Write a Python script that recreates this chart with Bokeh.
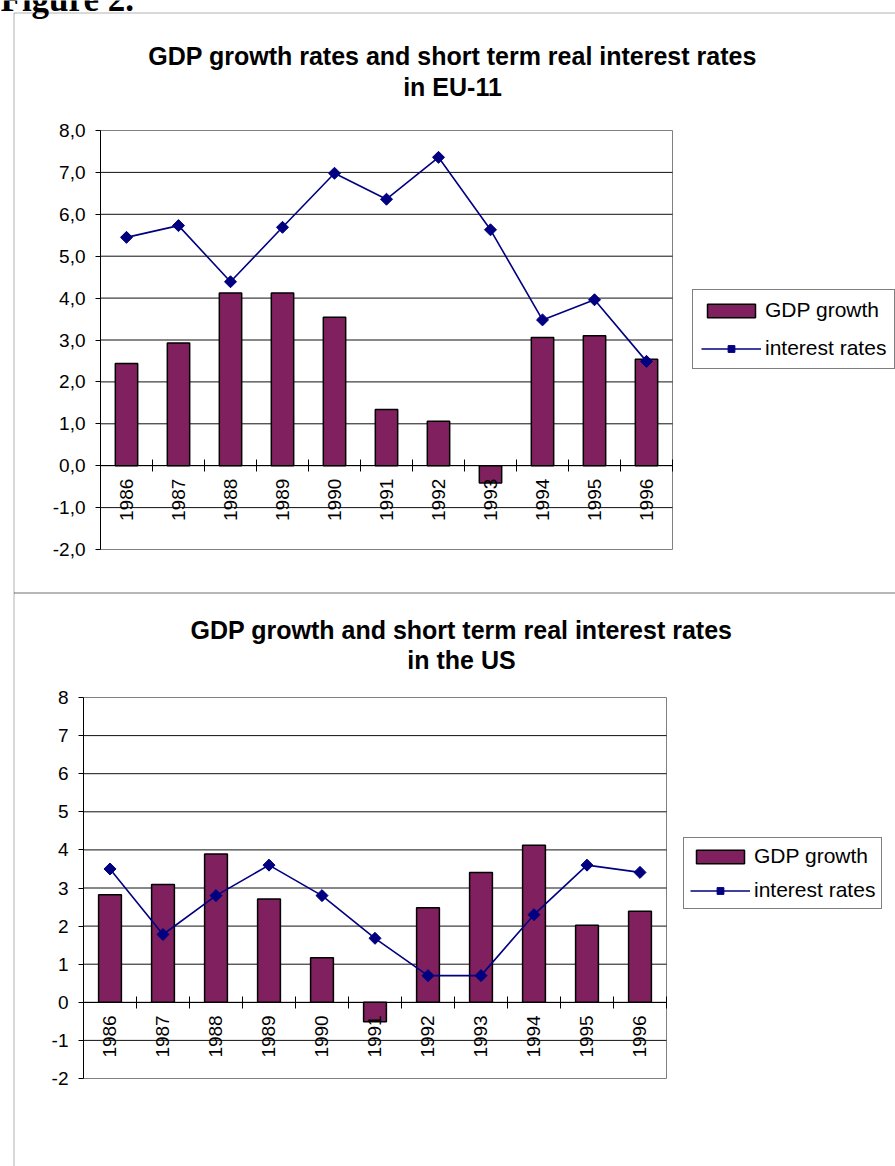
import math
from bokeh.plotting import figure
from bokeh.models import (Range1d, LinearAxis, FixedTicker, Legend, LegendItem,
                          Label, BoxAnnotation, ColumnDataSource)
from bokeh.embed import file_html
from bokeh.resources import INLINE

# ---------------- data ----------------
years = ["1986", "1987", "1988", "1989", "1990", "1991", "1992", "1993", "1994", "1995", "1996"]

eu_gdp = [2.44, 2.93, 4.12, 4.12, 3.54, 1.34, 1.06, -0.41, 3.06, 3.10, 2.54]
eu_rates = [5.45, 5.73, 4.39, 5.69, 6.98, 6.36, 7.36, 5.63, 3.48, 3.96, 2.49]

us_gdp = [2.82, 3.09, 3.89, 2.71, 1.17, -0.51, 2.48, 3.41, 4.12, 2.02, 2.39]
us_rates = [3.50, 1.78, 2.80, 3.60, 2.80, 1.68, 0.70, 0.70, 2.30, 3.60, 3.41]

y_values = [-2, -1, 0, 1, 2, 3, 4, 5, 6, 7, 8]
eu_tick_labels = ["-2,0", "-1,0", "0,0", "1,0", "2,0", "3,0", "4,0", "5,0", "6,0", "7,0", "8,0"]
us_tick_labels = ["-2", "-1", "0", "1", "2", "3", "4", "5", "6", "7", "8"]

eu_title = ["GDP growth rates and short term real interest rates", "in EU-11"]
us_title = ["GDP growth and short term real interest rates", "in the US"]
legend_labels = ["GDP growth", "interest rates"]
figure_caption = "Figure 2."

BAR_COLOR = "#80205F"
LINE_COLOR = "#000080"
FONT = "Liberation Sans"
W, H = 895, 1166

# page-pixel coordinate system: frame covers whole canvas
p = figure(width=W, height=H, output_backend="svg", toolbar_location=None,
           x_axis_location=None, y_axis_location=None,
           x_range=Range1d(0, W), y_range=Range1d(H, 0),
           min_border=0, min_border_left=0, min_border_right=0,
           min_border_top=0, min_border_bottom=0,
           background_fill_color="white", border_fill_color="white")
p.outline_line_color = None
p.grid.visible = False


def x_map(v0, c0, v1, c1):
    k = (c1 - c0) / (v1 - v0)
    return Range1d(start=v0 - c0 / k, end=v0 + (W - c0) / k)


def y_map(v0, c0, v1, c1):
    def val(cy):
        return v0 + (cy - c0) * (v1 - v0) / (c1 - c0)
    return Range1d(start=val(H), end=val(0))


def chart(name, gdp, rates, tick_labels, frame, title_lines, title_cx, title_base,
          legend_box, legend_pad, legend_spacing):
    fl, ft, fr, fb = frame  # frame left, top, right, bottom in page pixels
    n = len(years)
    xr, yr = name + "_x", name + "_y"
    p.extra_x_ranges[xr] = x_map(0.5, fl, n + 0.5, fr)
    p.extra_y_ranges[yr] = y_map(min(y_values), fb, max(y_values), ft)
    kw = dict(x_range_name=xr, y_range_name=yr)

    xs = list(range(1, n + 1))
    x_lo, x_hi = 0.5, n + 0.5
    y_lo, y_hi = min(y_values), max(y_values)

    # plot area border (gray)
    p.quad(left=[x_lo], right=[x_hi], bottom=[y_lo], top=[y_hi],
           fill_color=None, line_color="#808080", line_width=1, **kw)
    # horizontal gridlines
    inner = [v for v in y_values if y_lo < v < y_hi]
    p.segment(x0=[x_lo] * len(inner), x1=[x_hi] * len(inner), y0=inner, y1=inner,
              line_color="#111111", line_width=1, **kw)

    src = ColumnDataSource(dict(x=xs, gdp=gdp, rate=rates))
    bars = p.vbar(x="x", top="gdp", bottom=0, width=0.43, source=src,
                  fill_color=BAR_COLOR, line_color="black", line_width=1.5, **kw)
    line = p.line(x="x", y="rate", source=src, line_color=LINE_COLOR, line_width=1.6, **kw)
    pts = p.scatter(x="x", y="rate", source=src, marker="square", angle=math.pi / 4,
                    size=8.5, fill_color=LINE_COLOR, line_color=LINE_COLOR, **kw)

    yaxis = LinearAxis(ticker=FixedTicker(ticks=y_values), fixed_location=x_lo,
                       bounds=(y_lo, y_hi),
                       major_label_overrides={v: t for v, t in zip(y_values, tick_labels)},
                       major_tick_out=5, major_tick_in=0, minor_tick_line_color=None,
                       axis_line_color="black", major_tick_line_color="black",
                       major_label_standoff=10,
                       major_label_text_font=FONT, major_label_text_font_size="19px",
                       major_label_text_color="black", **kw)
    p.add_layout(yaxis, "left")

    bounds = [i + 0.5 for i in range(1, n + 1)]
    xtick_axis = LinearAxis(ticker=FixedTicker(ticks=bounds), fixed_location=0,
                            bounds=(x_lo, x_hi),
                            major_tick_in=6, major_tick_out=6, minor_tick_line_color=None,
                            axis_line_color="black", major_tick_line_color="black",
                            major_label_overrides={b: "" for b in bounds},
                            major_label_text_font_size="1px", **kw)
    p.add_layout(xtick_axis, "below")
    xlabel_axis = LinearAxis(ticker=FixedTicker(ticks=xs), fixed_location=0,
                             bounds=(x_lo, x_hi),
                             major_tick_in=0, major_tick_out=0, minor_tick_line_color=None,
                             axis_line_color=None, major_tick_line_color=None,
                             major_label_overrides={x: y for x, y in zip(xs, years)},
                             major_label_orientation=math.pi / 2,
                             major_label_standoff=13,
                             major_label_text_font=FONT, major_label_text_font_size="19px",
                             major_label_text_color="black", **kw)
    p.add_layout(xlabel_axis, "below")

    for txt, base in zip(title_lines, title_base):
        p.add_layout(Label(x=title_cx, y=base, text=txt, text_align="center",
                           text_baseline="alphabetic", text_font=FONT,
                           text_font_style="bold", text_font_size="25px",
                           text_color="black"))

    lx, lbottom = legend_box
    legend = Legend(items=[LegendItem(label=legend_labels[0], renderers=[bars]),
                           LegendItem(label=legend_labels[1], renderers=[line, pts])],
                    location=(lx, H - lbottom),
                    border_line_color="black", border_line_width=1,
                    background_fill_color="white", background_fill_alpha=1,
                    padding=legend_pad, margin=0, spacing=legend_spacing,
                    glyph_width=60, glyph_height=17,
                    label_standoff=4, label_height=22,
                    label_text_font=FONT, label_text_font_size="21px",
                    label_text_color="black")
    p.add_layout(legend)


# panel frames
p.add_layout(BoxAnnotation(left=13.5, right=W + 20, top=12.5, bottom=592.5,
                           fill_color=None, fill_alpha=0, line_color="black", line_width=1))
p.add_layout(BoxAnnotation(left=13.5, right=W + 20, top=592.5, bottom=H + 20,
                           fill_color=None, fill_alpha=0, line_color="black", line_width=1))

p.add_layout(Label(x=0, y=-1, text=figure_caption, text_align="left",
                   text_baseline="alphabetic", text_font="Liberation Serif",
                   text_font_style="bold", text_font_size="35px", text_color="black"))

chart("eu", eu_gdp, eu_rates, eu_tick_labels, (100, 130, 672, 549),
      eu_title, 452, (55, 86), (692, 369), 8, 14)
chart("us", us_gdp, us_rates, us_tick_labels, (83, 697, 666, 1078),
      us_title, 461, (629, 659), (683, 909), 6, 10)

open("out.html", "w").write(file_html(p, INLINE))
